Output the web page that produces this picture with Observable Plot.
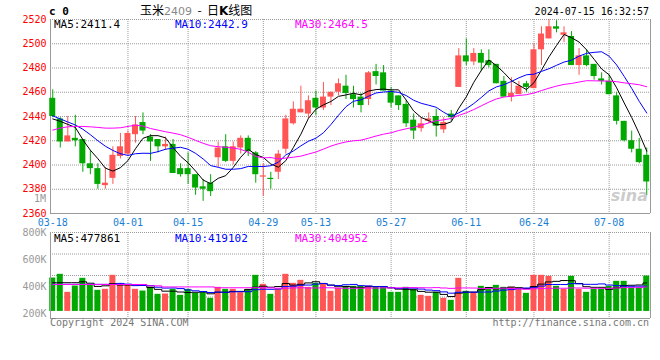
<!DOCTYPE html>
<html>
<head>
<meta charset="utf-8">
<script src="https://cdn.jsdelivr.net/npm/d3@7"></script>
<script src="https://cdn.jsdelivr.net/npm/@observablehq/plot@0.6"></script>
<style>
  html, body { margin: 0; padding: 0; background: #fff; overflow: hidden; }
  #wrap { position: relative; width: 660px; height: 360px; font-family: "DejaVu Sans Mono", monospace; }
  .t { position: absolute; white-space: nowrap; line-height: 1; }
  #price, #vol { position: absolute; left: 0; }
  #price { top: 0; }
  #vol { top: 225px; }
  svg { background: transparent !important; }
</style>
</head>
<body>
<div id="wrap">
  <div id="price"></div>
  <div id="vol"></div>
</div>
<script>
// ---------------- data ----------------
const contractName = "玉米";
const contractCode = "2409";
const chartKind = "日K线图";
const timestamp = "2024-07-15 16:32:57";

const dates = [
  "2024-03-18","2024-03-19","2024-03-20","2024-03-21","2024-03-22","2024-03-25","2024-03-26","2024-03-27","2024-03-28","2024-03-29",
  "2024-04-01","2024-04-02","2024-04-03","2024-04-08","2024-04-09","2024-04-10","2024-04-11","2024-04-12","2024-04-15","2024-04-16",
  "2024-04-17","2024-04-18","2024-04-19","2024-04-22","2024-04-23","2024-04-24","2024-04-25","2024-04-26","2024-04-29","2024-04-30",
  "2024-05-06","2024-05-07","2024-05-08","2024-05-09","2024-05-10","2024-05-13","2024-05-14","2024-05-15","2024-05-16","2024-05-17",
  "2024-05-20","2024-05-21","2024-05-22","2024-05-23","2024-05-24","2024-05-27","2024-05-28","2024-05-29","2024-05-30","2024-05-31",
  "2024-06-03","2024-06-04","2024-06-05","2024-06-06","2024-06-07","2024-06-11","2024-06-12","2024-06-13","2024-06-14","2024-06-17",
  "2024-06-18","2024-06-19","2024-06-20","2024-06-21","2024-06-24","2024-06-25","2024-06-26","2024-06-27","2024-06-28","2024-07-01",
  "2024-07-02","2024-07-03","2024-07-04","2024-07-05","2024-07-08","2024-07-09","2024-07-10","2024-07-11","2024-07-12","2024-07-15"
];
const opens = [
  2455,2438,2419,2422,2421,2401,2397,2383,2389,2407,
  2409,2425,2435,2423,2421,2415,2417,2397,2397,2392,
  2382,2385,2406,2415,2403,2414,2422,2410,2390,2389,
  2394,2413,2434,2443,2442,2455,2447,2456,2460,2465,
  2458,2456,2454,2477,2476,2461,2457,2450,2437,2430,
  2436,2440,2429,2442,2464,2490,2485,2492,2486,2483,
  2469,2456,2458,2467,2463,2495,2504,2514,2507,2506,
  2482,2490,2483,2471,2469,2457,2436,2420,2413,2408
];
const highs = [
  2462,2439,2440,2441,2421,2412,2401,2398,2415,2426,
  2428,2440,2443,2425,2421,2423,2421,2401,2410,2392,
  2388,2392,2419,2425,2419,2424,2424,2411,2401,2394,
  2412,2441,2452,2465,2457,2461,2468,2460,2471,2474,
  2465,2459,2477,2483,2482,2464,2457,2453,2442,2439,
  2443,2446,2439,2445,2496,2504,2496,2495,2495,2483,
  2473,2472,2469,2469,2500,2514,2520,2519,2514,2510,
  2496,2495,2483,2476,2474,2460,2436,2428,2422,2414
];
const lows = [
  2439,2414,2419,2415,2394,2392,2380,2380,2384,2405,
  2407,2418,2425,2403,2410,2412,2393,2390,2384,2375,
  2370,2374,2398,2402,2400,2409,2407,2385,2374,2380,
  2388,2409,2433,2443,2438,2441,2445,2449,2457,2454,
  2447,2443,2449,2466,2461,2447,2445,2431,2421,2427,
  2434,2423,2426,2436,2464,2482,2482,2477,2480,2467,
  2456,2452,2458,2460,2463,2482,2504,2509,2501,2482,
  2474,2481,2470,2466,2458,2433,2419,2410,2401,2375
];
const closes = [
  2440,2419,2424,2420,2401,2397,2384,2385,2408,2415,
  2426,2433,2428,2419,2415,2417,2393,2392,2392,2381,
  2380,2378,2414,2403,2415,2422,2411,2392,2391,2388,
  2409,2438,2446,2446,2453,2447,2456,2460,2467,2459,
  2454,2449,2476,2473,2461,2451,2449,2434,2428,2434,
  2438,2432,2435,2439,2490,2485,2492,2484,2482,2467,
  2456,2459,2465,2464,2495,2508,2514,2512,2509,2482,
  2490,2482,2473,2469,2458,2436,2420,2413,2402,2386
];
const volumes = [
  465400,492600,360300,406600,463200,413900,375000,382300,485200,413900,
  413900,382300,369800,399200,345600,347800,382300,338200,382300,352900,
  358000,316200,397000,382300,382300,358000,382300,485200,419100,345600,
  382300,492600,426400,448500,397000,426400,426400,367600,389700,404400,
  404400,404400,404400,397000,397000,360300,360300,397000,380100,338200,
  330900,360300,316200,301500,463200,367600,360300,404400,384500,411700,
  397000,397000,382300,352900,485200,485200,477900,404400,382300,477900,
  382300,360300,382300,382300,404400,441100,441100,391900,391900,480100
];
// moving-average values at the left edge (window reaches before the first shown day)
const ma5Head  = [2438, 2436, 2433.5, 2431, 2421];
const ma10Head = [2440.5, 2438, 2435.5, 2433, 2429.5, 2425, 2420, 2415.5, 2412, 2409.3];
const ma30Head = [2428.8, 2430.4, 2431.5, 2431.8, 2431.8, 2431.5, 2431.0, 2430.4, 2430.4, 2430.7,
                  2431.8, 2432.9, 2432.1, 2430.1, 2428.8, 2427.4, 2426.3, 2425.0, 2422.8, 2420.3,
                  2417.9, 2415.9, 2415.1, 2414.6, 2414.0, 2412.9, 2410.5, 2407.0, 2405.9, 2406.1];
const vma5Head  = [431000, 431000, 431000, 431000, 437600];
const vma10Head = [419000, 419000, 419000, 419000, 419000, 419000, 419000, 419000, 419000, 425800];
const vma30Head = [418000, 418000, 418000, 418000, 418000, 418000, 418000, 418000, 418000, 418000,
                   418000, 418000, 418000, 408000, 408000, 400000, 400000, 400000, 400000, 400000,
                   400000, 400000, 394000, 394000, 394000, 394000, 394000, 394000, 394000, 393300];

const priceLegend = ["MA5:2411.4", "MA10:2442.9", "MA30:2464.5"];
const volLegend = ["MA5:477861", "MA10:419102", "MA30:404952"];
const priceTicks = [2360, 2380, 2400, 2420, 2440, 2460, 2480, 2500, 2520];
const volTicks = [200000, 400000, 600000, 800000];
const volTickLabels = ["200K", "400K", "600K", "800K"];
const xTickDates = ["2024-03-18","2024-04-01","2024-04-15","2024-04-29","2024-05-13","2024-05-27","2024-06-11","2024-06-24","2024-07-08"];
const copyright = "Copyright 2024 SINA.COM";
const siteUrl = "http://finance.sina.com.cn";

// ---------------- build ----------------
const UP = "#ff5555", DOWN = "#00a800", GRID = "#9a9a9a";
const MA_COLORS = ["#000000", "#0000ff", "#ff00ff"];
const rows = dates.map((d, i) => ({
  i, date: d, open: opens[i], high: highs[i], low: lows[i], close: closes[i], vol: volumes[i],
  col: closes[i] >= opens[i] ? UP : DOWN
}));
const head = arr => arr.map((v, i) => ({i, v}));
const xDomain = [-0.3, 79.5];
const tickIdx = xTickDates.map(d => dates.indexOf(d));
const gridIdx = tickIdx.filter(i => i > 0);
const priceDomain = [priceTicks[0], priceTicks[priceTicks.length - 1]];
const volDomain = [168000, 800000];
const volBase = 220000;
const volGrid = [1, 2, 3].map(k => volDomain[0] + (volDomain[1] - volDomain[0]) * k / 4);
const font = {fontFamily: "DejaVu Sans Mono, monospace", fontSize: "10px", background: "transparent", overflow: "visible"};

const maMarks = (heads, ks, field) => ks.flatMap((k, j) => [
  Plot.line(head(heads[j]), {x: "i", y: "v", stroke: MA_COLORS[j], strokeWidth: 1, curve: field === "vol" ? "step" : "linear"}),
  Plot.lineY(rows, Plot.windowY({k, anchor: "end", strict: true},
    {x: "i", y: field, stroke: MA_COLORS[j], strokeWidth: 1, curve: field === "vol" ? "step" : "linear"}))
]);

const price = Plot.plot({
  width: 660, height: 230,
  marginLeft: 50, marginRight: 10, marginTop: 19, marginBottom: 17,
  style: font,
  color: {type: "identity"},
  x: {type: "linear", domain: xDomain, axis: null},
  y: {domain: priceDomain, axis: null},
  marks: [
    Plot.ruleY(priceTicks.slice(1), {stroke: GRID, strokeDasharray: "1,1"}),
    Plot.ruleX(gridIdx, {stroke: GRID, strokeDasharray: "1,1"}),
    Plot.ruleY([priceDomain[0]], {stroke: GRID}),
    Plot.ruleX(xDomain, {stroke: GRID}),
    Plot.ruleX(rows, {x: "i", y1: "low", y2: "high", stroke: "col", strokeWidth: 1}),
    Plot.rect(rows, {x1: d => d.i - 0.4, x2: d => d.i + 0.4, y1: "open", y2: "close", fill: "col"}),
    ...maMarks([ma5Head, ma10Head, ma30Head], [5, 10, 30], "close"),
    Plot.axisY({ticks: priceTicks, tickFormat: d => String(d), tickSize: 0, tickPadding: 4,
                fill: "#ff0000", label: null, fontSize: 10}),
    Plot.axisX({ticks: tickIdx, tickFormat: i => dates[i].slice(5), tickSize: 0, tickPadding: 5,
                fill: "#1a7fd4", label: null, fontSize: 10})
  ]
});
document.getElementById("price").append(price);

const vol = Plot.plot({
  width: 660, height: 100,
  marginLeft: 50, marginRight: 10, marginTop: 7, marginBottom: 7,
  style: font,
  color: {type: "identity"},
  x: {type: "linear", domain: xDomain, axis: null},
  y: {domain: volDomain, axis: null},
  marks: [
    Plot.ruleY(volGrid, {stroke: GRID, strokeDasharray: "1,1"}),
    Plot.ruleY([volDomain[1]], {stroke: GRID, strokeDasharray: "1,1"}),
    Plot.ruleX(gridIdx, {stroke: GRID, strokeDasharray: "1,1"}),
    Plot.rect(rows, {x1: d => d.i - 0.4, x2: d => d.i + 0.4, y1: volBase, y2: "vol", fill: "col"}),
    ...maMarks([vma5Head, vma10Head, vma30Head], [5, 10, 30], "vol"),
    Plot.ruleY([volDomain[0]], {stroke: GRID}),
    Plot.ruleX(xDomain, {stroke: GRID}),
    Plot.axisY({ticks: volTicks, tickFormat: d => volTickLabels[volTicks.indexOf(d)], tickSize: 0, tickPadding: 4,
                fill: "#999999", label: null, fontSize: 10})
  ]
});
document.getElementById("vol").append(vol);

// ---------------- texts ----------------
const wrap = document.getElementById("wrap");
function addText(html, css) {
  const el = document.createElement("div");
  el.className = "t";
  el.innerHTML = html;
  Object.assign(el.style, css);
  wrap.append(el);
  return el;
}
addText("c 0", {left: "49px", top: "6px", fontSize: "11px", fontWeight: "bold", color: "#000"});
addText(`<span style="font-family:'Noto Sans CJK SC';font-size:12px">${contractName}</span><span style="font-family:'DejaVu Sans';font-size:11px;color:#888">${contractCode}</span>&nbsp;&nbsp;-&nbsp;&nbsp;<span style="font-family:'Noto Sans CJK SC';font-size:12px">日<b style="font-family:'DejaVu Sans'">K</b>线图</span>`,
  {left: "140px", top: "4px", fontSize: "12px", color: "#000", fontFamily: "'Noto Sans CJK SC'"});
addText(timestamp, {right: "11px", top: "7px", fontSize: "10px", color: "#000"});
priceLegend.forEach((s, j) => addText(s, {left: [54, 175, 295][j] + "px", top: "19px", fontSize: "11px", color: MA_COLORS[j]}));
volLegend.forEach((s, j) => addText(s, {left: [54, 175, 295][j] + "px", top: "233px", fontSize: "11px", color: MA_COLORS[j]}));
addText("1M", {right: "614px", top: "194px", fontSize: "10px", color: "#999"});
addText(copyright, {left: "50px", top: "318px", fontSize: "10px", color: "#777"});
addText(siteUrl, {right: "11px", top: "318px", fontSize: "10px", color: "#777"});
addText("sina", {right: "12px", top: "188px", fontSize: "16px", fontStyle: "italic", fontWeight: "bold",
  fontFamily: "'DejaVu Sans'", color: "rgba(160,160,160,0.55)"});
</script>
</body>
</html>
